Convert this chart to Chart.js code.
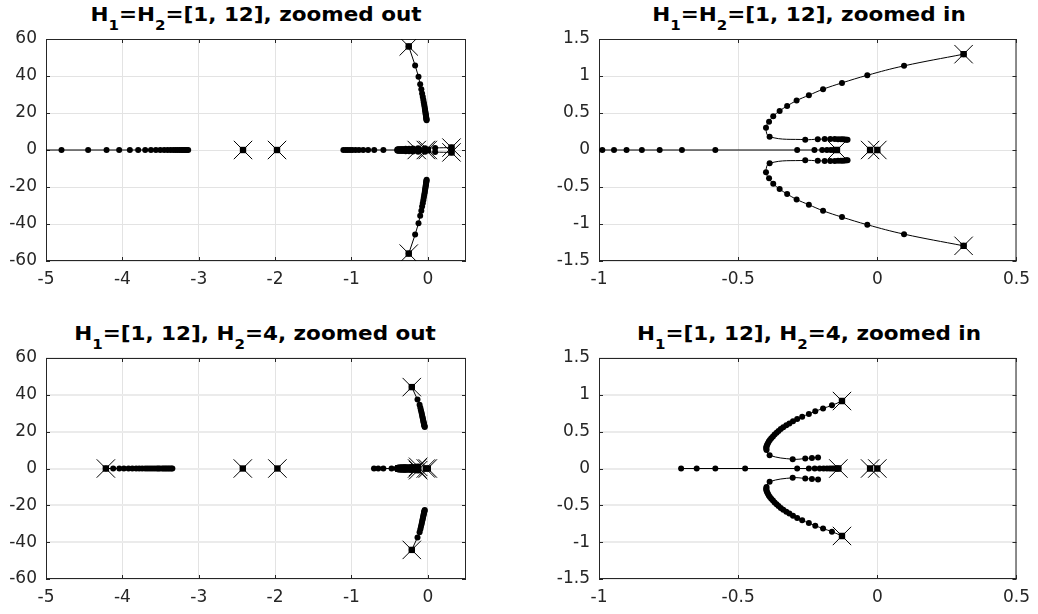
<!DOCTYPE html>
<html>
<head>
<meta charset="utf-8">
<script src="https://cdn.jsdelivr.net/npm/chart.js@4.4.1/dist/chart.umd.min.js"></script>
<style>
  body { margin: 0; background: #fff; width: 1038px; height: 614px; position: relative; overflow: hidden; font-family: "DejaVu Sans", sans-serif; }
  canvas { position: absolute; }
  .title { position: absolute; font-weight: bold; font-size: 20px; line-height: 24px; color: #000; white-space: nowrap; transform: translateX(-50%) scaleX(1.075); }
  .title sub { font-size: 14px; vertical-align: -9px; line-height: 0; }
</style>
</head>
<body>
<div class="title" style="left:256px; top:2px">H<sub>1</sub>=H<sub>2</sub>=[1, 12], zoomed out</div>
<div class="title" style="left:809px; top:2px">H<sub>1</sub>=H<sub>2</sub>=[1, 12], zoomed in</div>
<div class="title" style="left:255px; top:321px">H<sub>1</sub>=[1, 12], H<sub>2</sub>=4, zoomed out</div>
<div class="title" style="left:809px; top:321px">H<sub>1</sub>=[1, 12], H<sub>2</sub>=4, zoomed in</div>
<canvas id="topOut" width="519" height="300" style="left:0; top:0"></canvas>
<canvas id="topIn" width="519" height="300" style="left:519px; top:0"></canvas>
<canvas id="botOut" width="519" height="314" style="left:0; top:300px"></canvas>
<canvas id="botIn" width="519" height="314" style="left:519px; top:300px"></canvas>
<script>
// axis limits and ticks
const outXRange = [-5, 0.5];
const outYRange = [-60, 60];
const inXRange = [-1, 0.5];
const inYRange = [-1.5, 1.5];
const outXTicks = [-5, -4, -3, -2, -1, 0];
const outYTicks = [-60, -40, -20, 0, 20, 40, 60];
const inXTicks = [-1, -0.5, 0, 0.5];
const inYTicks = [-1.5, -1, -0.5, 0, 0.5, 1, 1.5];

// ---- H1 = H2 = [1, 12] ----
const polesA_re = [-2.42, -1.975, -0.145, -0.026, 0, 0.31, 0.31, -0.25, -0.25];
const polesA_im = [0, 0, 0, 0, 0, 1.295, -1.295, 56, -56];

const leftA_re = [-5.3, -4.797, -4.448, -4.207, -4.042, -3.902, -3.793, -3.701, -3.626, -3.561, -3.504,
  -3.452, -3.408, -3.369, -3.334, -3.304, -3.278, -3.252, -3.230, -3.208, -3.191, -3.173, -3.156, -3.138];
const midA_re = [-1.106, -1.075, -1.048, -1.018, -0.988, -0.946, -0.901, -0.846, -0.782, -0.702, -0.582,
  -0.288, -0.226, -0.198, -0.181, -0.167, -0.157, -0.150, -0.145];

const upA_re = [0.310, 0.096, -0.036, -0.127, -0.195, -0.246, -0.290, -0.324, -0.351, -0.374, -0.389, -0.400,
  -0.387, -0.259, -0.214, -0.189, -0.169, -0.153, -0.141, -0.131, -0.123, -0.116, -0.111, -0.107];
const upA_im = [1.295, 1.137, 1.010, 0.907, 0.821, 0.740, 0.668, 0.595, 0.528, 0.456, 0.383, 0.302,
  0.180, 0.140, 0.146, 0.147, 0.147, 0.147, 0.146, 0.145, 0.144, 0.142, 0.140, 0.138];
const loA_re = [0.310, 0.096, -0.036, -0.127, -0.195, -0.246, -0.290, -0.324, -0.351, -0.374, -0.389, -0.400,
  -0.387, -0.259, -0.214, -0.189, -0.169, -0.153, -0.141, -0.131, -0.123, -0.116, -0.111, -0.107];
const loA_im = [-1.295, -1.137, -1.010, -0.907, -0.821, -0.740, -0.668, -0.595, -0.528, -0.456, -0.383, -0.302,
  -0.180, -0.140, -0.146, -0.147, -0.147, -0.147, -0.146, -0.145, -0.144, -0.142, -0.140, -0.138];

const highA_re = [-0.25, -0.166, -0.122, -0.100, -0.085, -0.075, -0.066, -0.059, -0.053, -0.048, -0.043,
  -0.039, -0.036, -0.033, -0.030, -0.027, -0.025, -0.023, -0.021, -0.019, -0.017, -0.016];
const highA_im = [56, 45.7, 39.6, 35.5, 32.8, 30.6, 28.8, 27.2, 25.8, 24.6, 23.5,
  22.5, 21.6, 20.8, 20.0, 19.3, 18.7, 18.1, 17.5, 17.0, 16.5, 16.1];
const lowA_re = [-0.25, -0.166, -0.122, -0.100, -0.085, -0.075, -0.066, -0.059, -0.053, -0.048, -0.043,
  -0.039, -0.036, -0.033, -0.030, -0.027, -0.025, -0.023, -0.021, -0.019, -0.017, -0.016];
const lowA_im = [-56, -45.7, -39.6, -35.5, -32.8, -30.6, -28.8, -27.2, -25.8, -24.6, -23.5,
  -22.5, -21.6, -20.8, -20.0, -19.3, -18.7, -18.1, -17.5, -17.0, -16.5, -16.1];

// ---- H1 = [1, 12], H2 = 4 ----
const polesB_re = [-4.216, -2.423, -1.97, -0.14, -0.026, 0, -0.127, -0.127, -0.21, -0.21];
const polesB_im = [0, 0, 0, 0, 0, 0, 0.916, -0.916, 44.2, -44.2];

const leftB_re = [-4.216, -4.12, -4.04, -3.98, -3.92, -3.87, -3.82, -3.78, -3.74, -3.70, -3.67, -3.64,
  -3.61, -3.58, -3.55, -3.53, -3.51, -3.48, -3.46, -3.44, -3.42, -3.40, -3.38, -3.36, -3.345];
const midB_re = [-0.705, -0.649, -0.582, -0.475, -0.288, -0.246, -0.225, -0.207, -0.193, -0.181, -0.171,
  -0.163, -0.156, -0.150, -0.145, -0.14];

const upB_re = [-0.127, -0.163, -0.195, -0.223, -0.246, -0.270, -0.288, -0.303, -0.316, -0.327, -0.338, -0.347,
  -0.355, -0.362, -0.369, -0.375, -0.381, -0.386, -0.390, -0.393, -0.396, -0.398, -0.399, -0.399, -0.398,
  -0.387, -0.304, -0.259, -0.235, -0.213];
const upB_im = [0.916, 0.857, 0.816, 0.776, 0.740, 0.704, 0.672, 0.640, 0.612, 0.586, 0.560, 0.535,
  0.510, 0.485, 0.460, 0.436, 0.412, 0.388, 0.365, 0.343, 0.322, 0.302, 0.284, 0.267, 0.252,
  0.180, 0.126, 0.135, 0.144, 0.149];
const loB_re = [-0.127, -0.163, -0.195, -0.223, -0.246, -0.270, -0.288, -0.303, -0.316, -0.327, -0.338, -0.347,
  -0.355, -0.362, -0.369, -0.375, -0.381, -0.386, -0.390, -0.393, -0.396, -0.398, -0.399, -0.399, -0.398,
  -0.387, -0.304, -0.259, -0.235, -0.213];
const loB_im = [-0.916, -0.857, -0.816, -0.776, -0.740, -0.704, -0.672, -0.640, -0.612, -0.586, -0.560, -0.535,
  -0.510, -0.485, -0.460, -0.436, -0.412, -0.388, -0.365, -0.343, -0.322, -0.302, -0.284, -0.267, -0.252,
  -0.180, -0.126, -0.135, -0.144, -0.149];

const highB_re = [-0.21, -0.135, -0.108, -0.098, -0.090, -0.083, -0.077, -0.072, -0.067, -0.063, -0.059,
  -0.055, -0.052, -0.049, -0.046, -0.043, -0.040];
const highB_im = [44.2, 37.4, 34.6, 33.0, 31.6, 30.4, 29.3, 28.3, 27.4, 26.6, 25.8,
  25.1, 24.5, 23.9, 23.4, 22.9, 22.5];
const lowB_re = [-0.21, -0.135, -0.108, -0.098, -0.090, -0.083, -0.077, -0.072, -0.067, -0.063, -0.059,
  -0.055, -0.052, -0.049, -0.046, -0.043, -0.040];
const lowB_im = [-44.2, -37.4, -34.6, -33.0, -31.6, -30.4, -29.3, -28.3, -27.4, -26.6, -25.8,
  -25.1, -24.5, -23.9, -23.4, -22.9, -22.5];

const axisColor = '#262626';

// real/imag arrays -> {x, y} points (imag part 0 when omitted)
function pts(re, im) {
  return re.map((x, i) => ({ x: x, y: im ? im[i] : 0 }));
}

// branches: [re, im, tension]; complex pairs near the origin get a smoothed line
function buildDatasets(poles, branches) {
  const branchStyle = {
    showLine: true,
    borderColor: '#000',
    borderWidth: 1,
    pointStyle: 'circle',
    pointRadius: 3,
    pointBackgroundColor: '#000',
    pointBorderWidth: 0
  };
  return [
    {
      data: pts(poles[0], poles[1]),
      showLine: false,
      pointStyle: 'crossRot',
      pointRadius: 13,
      pointBorderColor: '#000',
      pointBackgroundColor: 'rgba(0,0,0,0)',
      pointBorderWidth: 1
    },
    {
      data: pts(poles[0], poles[1]),
      showLine: false,
      pointStyle: 'rect',
      pointRadius: 4.5,
      pointBackgroundColor: '#000',
      pointBorderWidth: 0
    },
    ...branches.map(b => ({ ...branchStyle, tension: b[2] || 0, data: pts(b[0], b[1]) }))
  ];
}

// axes box with inward tick marks
const framePlugin = {
  id: 'frame',
  beforeDatasetsDraw(chart) {
    const { ctx, chartArea: a, scales } = chart;
    ctx.save();
    ctx.strokeStyle = axisColor;
    ctx.lineWidth = 1;
    ctx.strokeRect(a.left + 0.5, a.top + 0.5, a.right - a.left - 1, a.bottom - a.top - 1);
    ctx.beginPath();
    scales.x.ticks.forEach(t => {
      const px = Math.round(scales.x.getPixelForValue(t.value)) + 0.5;
      ctx.moveTo(px, a.bottom); ctx.lineTo(px, a.bottom - 4);
      ctx.moveTo(px, a.top); ctx.lineTo(px, a.top + 4);
    });
    scales.y.ticks.forEach(t => {
      const py = Math.round(scales.y.getPixelForValue(t.value)) + 0.5;
      ctx.moveTo(a.left, py); ctx.lineTo(a.left + 4, py);
      ctx.moveTo(a.right, py); ctx.lineTo(a.right - 4, py);
    });
    ctx.stroke();
    ctx.restore();
  }
};

function makeChart(id, datasets, xRange, yRange, xTicks, yTicks, box) {
  const tickFont = { family: 'DejaVu Sans', size: 17 };
  return new Chart(document.getElementById(id), {
    type: 'scatter',
    data: { datasets: datasets },
    options: {
      responsive: false,
      animation: false,
      events: [],
      layout: { padding: { left: 0, top: box.top, right: box.right, bottom: 0 } },
      plugins: { legend: { display: false }, tooltip: { enabled: false } },
      scales: {
        x: {
          type: 'linear',
          min: xRange[0],
          max: xRange[1],
          afterBuildTicks: axis => { axis.ticks = xTicks.map(v => ({ value: v })); },
          afterFit: axis => { axis.height = box.bottom; },
          border: { display: false },
          grid: { color: '#e3e3e3', lineWidth: 1, drawTicks: false },
          ticks: { font: tickFont, color: axisColor, padding: 8, maxRotation: 0, autoSkip: false,
            callback: v => String(v) }
        },
        y: {
          type: 'linear',
          min: yRange[0],
          max: yRange[1],
          afterBuildTicks: axis => { axis.ticks = yTicks.map(v => ({ value: v })); },
          afterFit: axis => { axis.width = box.left; },
          border: { display: false },
          grid: { color: box.hGrid, lineWidth: box.hGridWidth, drawTicks: false },
          ticks: { font: tickFont, color: axisColor, padding: 9, autoSkip: false,
            callback: v => String(v) }
        }
      }
    },
    plugins: [framePlugin]
  });
}

const branchesA = [[leftA_re], [midA_re], [upA_re, upA_im, 0.4], [loA_re, loA_im, 0.4],
  [highA_re, highA_im], [lowA_re, lowA_im]];
const branchesB = [[leftB_re], [midB_re], [upB_re, upB_im, 0.4], [loB_re, loB_im, 0.4],
  [highB_re, highB_im], [lowB_re, lowB_im]];
const polesA = [polesA_re, polesA_im];
const polesB = [polesB_re, polesB_im];

const topBox = { left: 46, right: 53, top: 39, bottom: 39, hGrid: '#e3e3e3', hGridWidth: 1 };
const topBoxIn = { left: 80, right: 19, top: 39, bottom: 39, hGrid: '#e3e3e3', hGridWidth: 1 };
const botBox = { left: 46, right: 53, top: 58, bottom: 35, hGrid: '#ebebeb', hGridWidth: 2 };
const botBoxIn = { left: 80, right: 19, top: 58, bottom: 35, hGrid: '#ebebeb', hGridWidth: 2 };

makeChart('topOut', buildDatasets(polesA, branchesA), outXRange, outYRange, outXTicks, outYTicks, topBox);
makeChart('topIn', buildDatasets(polesA, branchesA), inXRange, inYRange, inXTicks, inYTicks, topBoxIn);
makeChart('botOut', buildDatasets(polesB, branchesB), outXRange, outYRange, outXTicks, outYTicks, botBox);
makeChart('botIn', buildDatasets(polesB, branchesB), inXRange, inYRange, inXTicks, inYTicks, botBoxIn);
</script>
</body>
</html>
